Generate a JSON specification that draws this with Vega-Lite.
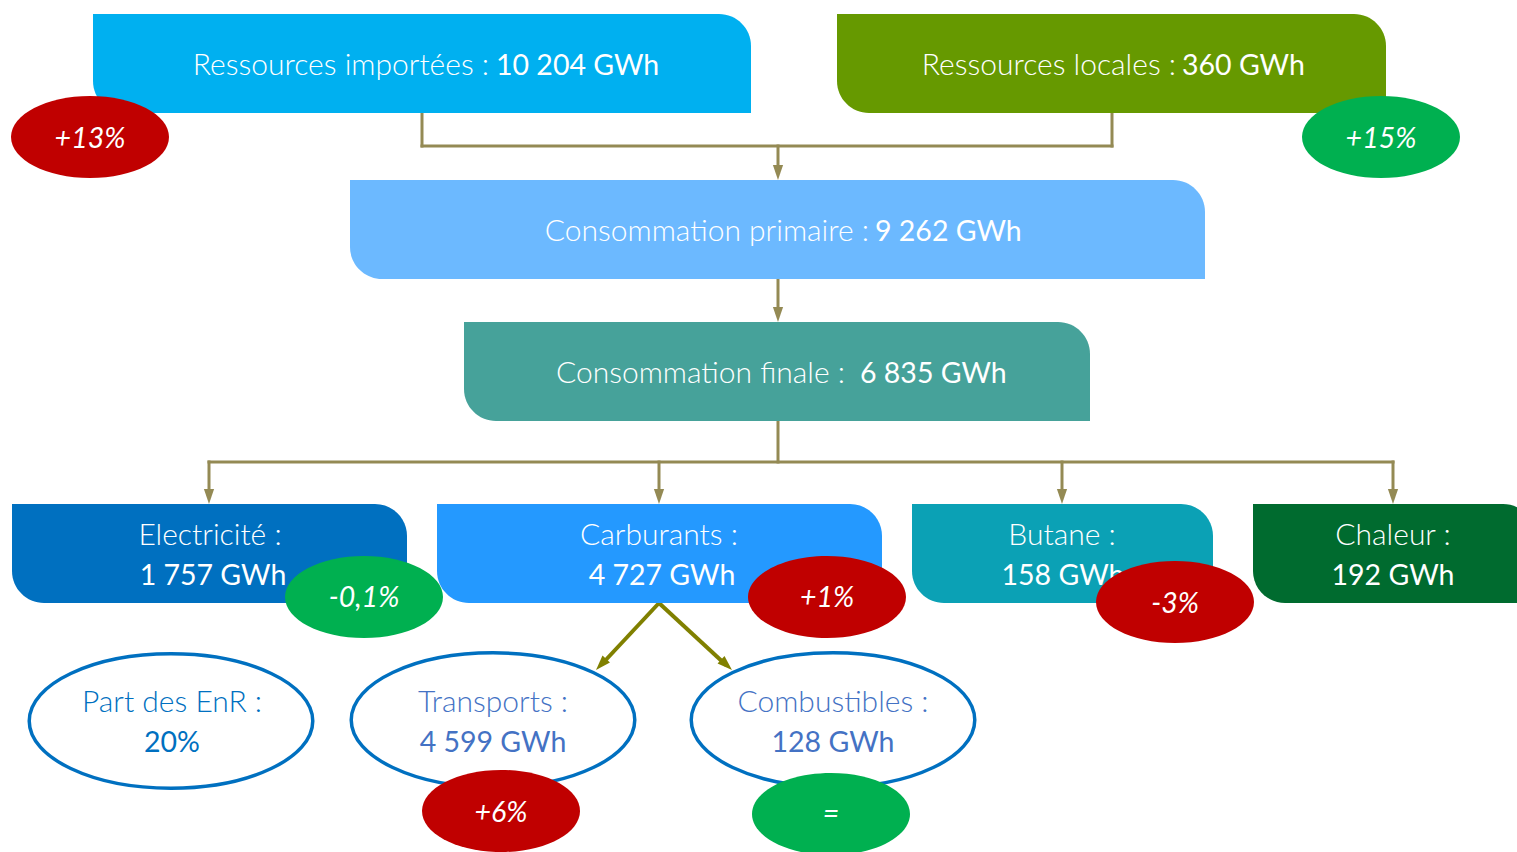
{
  "$schema": "https://vega.github.io/schema/vega-lite/v6.json",
  "width": 1517,
  "height": 852,
  "autosize": {"type": "none"},
  "padding": 0,
  "background": "white",
  "config": {"view": {"stroke": null}, "font": "Lato"},
  "resolve": {"scale": {"color": "independent", "fontWeight": "independent"}},
  "datasets": {
    "noeuds": [
      {"noeud": "Ressources importées", "x1": 93, "x2": 751, "y1": 14, "y2": 113},
      {"noeud": "Ressources locales", "x1": 837, "x2": 1386, "y1": 14, "y2": 113},
      {"noeud": "Consommation primaire", "x1": 350, "x2": 1205, "y1": 180, "y2": 279},
      {"noeud": "Consommation finale", "x1": 464, "x2": 1090, "y1": 322, "y2": 421},
      {"noeud": "Electricité", "x1": 12, "x2": 407, "y1": 504, "y2": 603},
      {"noeud": "Carburants", "x1": 437, "x2": 882, "y1": 504, "y2": 603},
      {"noeud": "Butane", "x1": 912, "x2": 1213, "y1": 504, "y2": 603},
      {"noeud": "Chaleur", "x1": 1253, "x2": 1535, "y1": 504, "y2": 603}
    ],
    "liens": [
      {"type": "tronc", "x1": 422, "y1": 113, "x2": 422, "y2": 146},
      {"type": "tronc", "x1": 1112, "y1": 113, "x2": 1112, "y2": 146},
      {"type": "tronc", "x1": 422, "y1": 146, "x2": 1112, "y2": 146},
      {"type": "tronc", "x1": 778, "y1": 146, "x2": 778, "y2": 172},
      {"type": "tronc", "x1": 778, "y1": 279, "x2": 778, "y2": 314},
      {"type": "tronc", "x1": 778, "y1": 421, "x2": 778, "y2": 462},
      {"type": "tronc", "x1": 209, "y1": 462, "x2": 1393, "y2": 462},
      {"type": "tronc", "x1": 209, "y1": 462, "x2": 209, "y2": 496},
      {"type": "tronc", "x1": 659, "y1": 462, "x2": 659, "y2": 496},
      {"type": "tronc", "x1": 1062, "y1": 462, "x2": 1062, "y2": 496},
      {"type": "tronc", "x1": 1393, "y1": 462, "x2": 1393, "y2": 496},
      {"type": "carburants", "x1": 659, "y1": 603, "x2": 602, "y2": 664},
      {"type": "carburants", "x1": 659, "y1": 603, "x2": 726, "y2": 665}
    ],
    "fleches": [
      {"type": "tronc", "x": 778, "y": 180, "angle": 0},
      {"type": "tronc", "x": 778, "y": 322, "angle": 0},
      {"type": "tronc", "x": 209, "y": 504, "angle": 0},
      {"type": "tronc", "x": 659, "y": 504, "angle": 0},
      {"type": "tronc", "x": 1062, "y": 504, "angle": 0},
      {"type": "tronc", "x": 1393, "y": 504, "angle": 0},
      {"type": "carburants", "x": 596, "y": 670, "angle": 43},
      {"type": "carburants", "x": 732, "y": 670, "angle": 313}
    ],
    "textes": [
      {"role": "libelle-d", "texte": "Ressources importées :", "x": 489, "y": 75},
      {"role": "valeur-g", "texte": "10 204 GWh", "x": 496, "y": 75},
      {"role": "libelle-d", "texte": "Ressources locales :", "x": 1176, "y": 75},
      {"role": "valeur-g", "texte": "360 GWh", "x": 1182, "y": 75},
      {"role": "libelle-d", "texte": "Consommation primaire :", "x": 869, "y": 241},
      {"role": "valeur-g", "texte": "9 262 GWh", "x": 875, "y": 241},
      {"role": "libelle-d", "texte": "Consommation finale :", "x": 845, "y": 383},
      {"role": "valeur-g", "texte": "6 835 GWh", "x": 860, "y": 383},
      {"role": "libelle-c", "texte": "Electricité :", "x": 210, "y": 545},
      {"role": "valeur-c", "texte": "1 757 GWh", "x": 213, "y": 585},
      {"role": "libelle-c", "texte": "Carburants :", "x": 659, "y": 545},
      {"role": "valeur-c", "texte": "4 727 GWh", "x": 662, "y": 585},
      {"role": "libelle-c", "texte": "Butane :", "x": 1062, "y": 545},
      {"role": "valeur-c", "texte": "158 GWh", "x": 1063, "y": 585},
      {"role": "libelle-c", "texte": "Chaleur :", "x": 1393, "y": 545},
      {"role": "valeur-c", "texte": "192 GWh", "x": 1393, "y": 585}
    ],
    "ovales": [
      {"ovale": "Part des EnR", "x": 171, "y": 721},
      {"ovale": "Transports", "x": 493, "y": 720},
      {"ovale": "Combustibles", "x": 833, "y": 720}
    ],
    "textes_ovales": [
      {"ovale": "Part des EnR", "ligne": "libelle", "texte": "Part des EnR :", "x": 172, "y": 712},
      {"ovale": "Part des EnR", "ligne": "valeur", "texte": "20%", "x": 172, "y": 752},
      {"ovale": "Transports", "ligne": "libelle", "texte": "Transports :", "x": 493, "y": 712},
      {"ovale": "Transports", "ligne": "valeur", "texte": "4 599 GWh", "x": 493, "y": 752},
      {"ovale": "Combustibles", "ligne": "libelle", "texte": "Combustibles :", "x": 833, "y": 712},
      {"ovale": "Combustibles", "ligne": "valeur", "texte": "128 GWh", "x": 833, "y": 752}
    ],
    "evolutions": [
      {"cible": "Ressources importées", "evolution": "+13%", "sens": "défavorable", "x": 90, "y": 137, "ty": 148},
      {"cible": "Ressources locales", "evolution": "+15%", "sens": "favorable", "x": 1381, "y": 137, "ty": 148},
      {"cible": "Electricité", "evolution": "-0,1%", "sens": "favorable", "x": 364, "y": 597, "ty": 607},
      {"cible": "Carburants", "evolution": "+1%", "sens": "défavorable", "x": 827, "y": 597, "ty": 607},
      {"cible": "Butane", "evolution": "-3%", "sens": "défavorable", "x": 1175, "y": 602, "ty": 613},
      {"cible": "Transports", "evolution": "+6%", "sens": "défavorable", "x": 501, "y": 811, "ty": 822},
      {"cible": "Combustibles", "evolution": "=", "sens": "favorable", "x": 831, "y": 814, "ty": 823}
    ]
  },
  "layer": [
    {
      "data": {"name": "liens"},
      "transform": [{"filter": "datum.type === 'tronc'"}],
      "mark": {"type": "rule", "color": "#948A54", "strokeWidth": 3, "strokeCap": "square"},
      "encoding": {
        "x": {"field": "x1", "type": "quantitative", "scale": {"domain": [0, 1517], "nice": false, "zero": false}, "axis": null},
        "x2": {"field": "x2"},
        "y": {"field": "y1", "type": "quantitative", "scale": {"domain": [0, 852], "reverse": true, "nice": false, "zero": false}, "axis": null},
        "y2": {"field": "y2"}
      }
    },
    {
      "data": {"name": "liens"},
      "transform": [{"filter": "datum.type === 'carburants'"}],
      "mark": {"type": "rule", "color": "#808000", "strokeWidth": 4},
      "encoding": {
        "x": {"field": "x1", "type": "quantitative", "axis": null},
        "x2": {"field": "x2"},
        "y": {"field": "y1", "type": "quantitative", "axis": null},
        "y2": {"field": "y2"}
      }
    },
    {
      "data": {"name": "noeuds"},
      "mark": {"type": "rect", "cornerRadiusTopRight": 32, "cornerRadiusBottomLeft": 32, "clip": true},
      "encoding": {
        "x": {"field": "x1", "type": "quantitative", "axis": null},
        "x2": {"field": "x2"},
        "y": {"field": "y1", "type": "quantitative", "axis": null},
        "y2": {"field": "y2"},
        "color": {
          "field": "noeud", "type": "nominal", "legend": null,
          "scale": {
            "domain": ["Ressources importées", "Ressources locales", "Consommation primaire", "Consommation finale", "Electricité", "Carburants", "Butane", "Chaleur"],
            "range": ["#00B0F0", "#669900", "#6CB9FF", "#46A29A", "#0070C0", "#2499FF", "#0BA1B5", "#006B2F"]
          }
        }
      }
    },
    {
      "data": {"name": "fleches"},
      "mark": {"type": "point", "shape": "M 0 0 L -0.34 -1 L 0.34 -1 Z", "size": 900, "filled": true, "opacity": 1},
      "encoding": {
        "x": {"field": "x", "type": "quantitative", "axis": null},
        "y": {"field": "y", "type": "quantitative", "axis": null},
        "angle": {"field": "angle", "type": "quantitative", "scale": null},
        "color": {"field": "type", "type": "nominal", "legend": null, "scale": {"domain": ["tronc", "carburants"], "range": ["#948A54", "#808000"]}}
      }
    },
    {
      "data": {"name": "textes"},
      "transform": [{"filter": "datum.role === 'libelle-d'"}],
      "mark": {"type": "text", "align": "right", "baseline": "alphabetic", "fontSize": 30, "fontWeight": 300, "color": "white"},
      "encoding": {
        "x": {"field": "x", "type": "quantitative", "axis": null},
        "y": {"field": "y", "type": "quantitative", "axis": null},
        "text": {"field": "texte"}
      }
    },
    {
      "data": {"name": "textes"},
      "transform": [{"filter": "datum.role === 'valeur-g'"}],
      "mark": {"type": "text", "align": "left", "baseline": "alphabetic", "fontSize": 28.5, "fontWeight": 400, "color": "white"},
      "encoding": {
        "x": {"field": "x", "type": "quantitative", "axis": null},
        "y": {"field": "y", "type": "quantitative", "axis": null},
        "text": {"field": "texte"}
      }
    },
    {
      "data": {"name": "textes"},
      "transform": [{"filter": "datum.role === 'libelle-c'"}],
      "mark": {"type": "text", "align": "center", "baseline": "alphabetic", "fontSize": 30, "fontWeight": 300, "color": "white"},
      "encoding": {
        "x": {"field": "x", "type": "quantitative", "axis": null},
        "y": {"field": "y", "type": "quantitative", "axis": null},
        "text": {"field": "texte"}
      }
    },
    {
      "data": {"name": "textes"},
      "transform": [{"filter": "datum.role === 'valeur-c'"}],
      "mark": {"type": "text", "align": "center", "baseline": "alphabetic", "fontSize": 28.5, "fontWeight": 400, "color": "white"},
      "encoding": {
        "x": {"field": "x", "type": "quantitative", "axis": null},
        "y": {"field": "y", "type": "quantitative", "axis": null},
        "text": {"field": "texte"}
      }
    },
    {
      "data": {"name": "ovales"},
      "mark": {
        "type": "point",
        "shape": "M 1 0 C 1 0.2617 0.5523 0.474 0 0.474 C -0.5523 0.474 -1 0.2617 -1 0 C -1 -0.2617 -0.5523 -0.474 0 -0.474 C 0.5523 -0.474 1 -0.2617 1 0 Z",
        "size": 80400, "filled": true, "fill": "white", "stroke": "#0070C0", "strokeWidth": 3.5, "opacity": 1
      },
      "encoding": {
        "x": {"field": "x", "type": "quantitative", "axis": null},
        "y": {"field": "y", "type": "quantitative", "axis": null}
      }
    },
    {
      "data": {"name": "textes_ovales"},
      "transform": [{"filter": "datum.ligne === 'libelle'"}],
      "mark": {"type": "text", "align": "center", "baseline": "alphabetic", "fontSize": 30, "fontWeight": 300},
      "encoding": {
        "x": {"field": "x", "type": "quantitative", "axis": null},
        "y": {"field": "y", "type": "quantitative", "axis": null},
        "text": {"field": "texte"},
        "color": {"field": "ovale", "type": "nominal", "legend": null, "scale": {"domain": ["Part des EnR", "Transports", "Combustibles"], "range": ["#0070C0", "#4472C4", "#4472C4"]}}
      }
    },
    {
      "data": {"name": "textes_ovales"},
      "transform": [{"filter": "datum.ligne === 'valeur'"}],
      "mark": {"type": "text", "align": "center", "baseline": "alphabetic", "fontSize": 28.5, "fontWeight": 400},
      "encoding": {
        "x": {"field": "x", "type": "quantitative", "axis": null},
        "y": {"field": "y", "type": "quantitative", "axis": null},
        "text": {"field": "texte"},
        "color": {"field": "ovale", "type": "nominal", "legend": null, "scale": {"domain": ["Part des EnR", "Transports", "Combustibles"], "range": ["#0070C0", "#4472C4", "#4472C4"]}}
      }
    },
    {
      "data": {"name": "evolutions"},
      "mark": {
        "type": "point",
        "shape": "M 1 0 C 1 0.2872 0.5523 0.52 0 0.52 C -0.5523 0.52 -1 0.2872 -1 0 C -1 -0.2872 -0.5523 -0.52 0 -0.52 C 0.5523 -0.52 1 -0.2872 1 0 Z",
        "size": 24964, "filled": true, "opacity": 1, "strokeWidth": 0
      },
      "encoding": {
        "x": {"field": "x", "type": "quantitative", "axis": null},
        "y": {"field": "y", "type": "quantitative", "axis": null},
        "color": {"field": "sens", "type": "nominal", "legend": null, "scale": {"domain": ["défavorable", "favorable"], "range": ["#C00000", "#00B050"]}}
      }
    },
    {
      "data": {"name": "evolutions"},
      "mark": {"type": "text", "align": "center", "baseline": "alphabetic", "fontSize": 28.5, "fontStyle": "italic", "color": "white"},
      "encoding": {
        "x": {"field": "x", "type": "quantitative", "axis": null},
        "y": {"field": "ty", "type": "quantitative", "axis": null},
        "text": {"field": "evolution"}
      }
    }
  ]
}
